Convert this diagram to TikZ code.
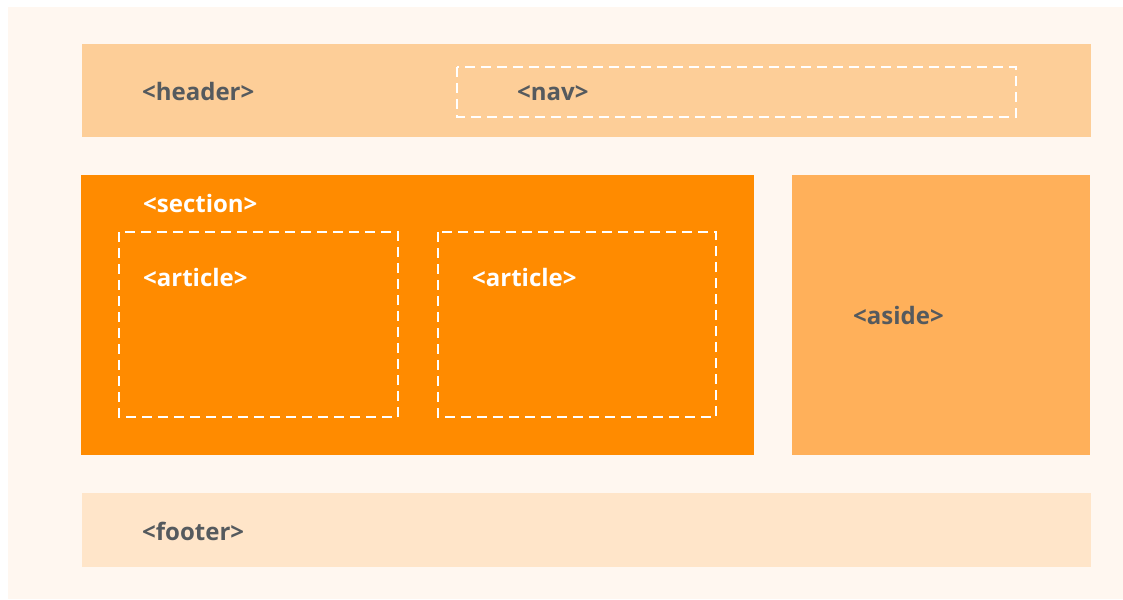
\documentclass[tikz,border=0pt]{standalone}
\usepackage{fontspec}
\setmainfont{Open Sans}
\definecolor{bgcream}{HTML}{FFF7F0}
\definecolor{headerc}{HTML}{FDCE98}
\definecolor{sectionc}{HTML}{FF8B00}
\definecolor{asidec}{HTML}{FFB05A}
\definecolor{footerc}{HTML}{FFE5C9}
\definecolor{txtgray}{HTML}{555A5E}
\begin{document}
\begin{tikzpicture}[x=1pt,y=-1pt,
  dashbox/.style={draw=white,line width=2.6pt,dash pattern=on 10pt off 6pt},
  lbl/.style={anchor=base west,inner sep=0pt,font=\fontsize{24}{28}\selectfont\bfseries},
  dark/.style={lbl,text=txtgray},
  light/.style={lbl,text=white}]
\useasboundingbox (0,0) rectangle (1123,599);
\fill[white] (0,0) rectangle (1123,599);
\fill[bgcream] (8,7) rectangle (1123,599);
% header
\fill[headerc] (82,44) rectangle (1091,137);
\draw[dashbox] (457,67) rectangle (1016,117);
\node[dark] (header) at (142,100.5) {<header>};
\node[dark] (nav) at (517,100.5) {<nav>};
% section
\fill[sectionc] (81,175) rectangle (754,455);
\node[light] (section) at (143,212.5) {<section>};
\draw[dashbox] (119,232) rectangle (398,417);
\draw[dashbox] (438,232) rectangle (716,417);
\node[light] (art1) at (143,286.5) {<article>};
\node[light] (art2) at (472,286.5) {<article>};
% aside
\fill[asidec] (792,175) rectangle (1090,455);
\node[dark] (aside) at (853,324.5) {<aside>};
% footer
\fill[footerc] (82,493) rectangle (1091,567);
\node[dark] (footer) at (142,540) {<footer>};
\end{tikzpicture}
\end{document}
